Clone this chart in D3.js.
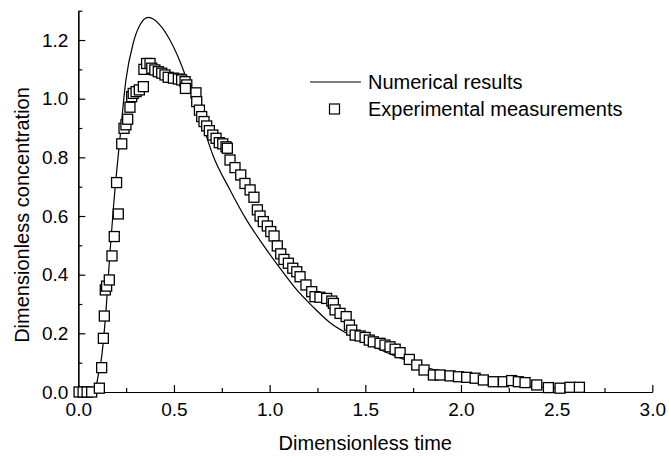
<!DOCTYPE html>
<html>
<head>
<meta charset="utf-8">
<script src="https://cdn.jsdelivr.net/npm/d3@7"></script>
<style>
  body { margin: 0; background: white; }
  svg { display: block; font-family: "Liberation Sans", Arial, sans-serif; }
  .axis text { font-size: 19px; fill: black; }
  .axis path, .axis line { stroke: black; stroke-width: 1.2; }
</style>
</head>
<body>
<script>
// experimental points (dimensionless time, concentration)
var expTime = [0.004, 0.025, 0.046, 0.07, 0.11, 0.122, 0.131, 0.136, 0.141, 0.148, 0.162, 0.176, 0.188, 0.2, 0.209,
  0.227, 0.239, 0.249, 0.258, 0.27, 0.279, 0.287, 0.302, 0.319, 0.34, 0.343, 0.357, 0.375, 0.384, 0.40, 0.418,
  0.436, 0.453, 0.47, 0.497, 0.523, 0.54, 0.558, 0.567, 0.56, 0.615, 0.619, 0.633, 0.645, 0.657, 0.671, 0.685,
  0.703, 0.72, 0.737, 0.755, 0.772, 0.779, 0.793, 0.819, 0.849, 0.871, 0.898, 0.918, 0.936, 0.95, 0.967, 0.988,
  1.006, 1.023, 1.04, 1.058, 1.075, 1.098, 1.121, 1.142, 1.159, 1.19, 1.22, 1.237, 1.263, 1.298, 1.325, 1.333,
  1.342, 1.368, 1.4, 1.417, 1.429, 1.447, 1.473, 1.499, 1.521, 1.542, 1.577, 1.603, 1.629, 1.656, 1.682, 1.73,
  1.769, 1.807, 1.856, 1.891, 1.943, 1.987, 2.03, 2.074, 2.117, 2.169, 2.222, 2.265, 2.3, 2.335, 2.396, 2.457,
  2.518, 2.57, 2.619]
var expConc = [0, 0, 0, 0, 0.013, 0.083, 0.183, 0.259, 0.348, 0.361, 0.382, 0.464, 0.530, 0.714, 0.607,
  0.846, 0.899, 0.911, 0.93, 0.971, 1.007, 1.018, 1.024, 1.03, 1.041, 1.1, 1.12, 1.12, 1.104, 1.098, 1.092,
  1.087, 1.081, 1.073, 1.07, 1.067, 1.064, 1.058, 1.047, 1.035, 1.02, 0.99, 0.961, 0.939, 0.922, 0.907, 0.891,
  0.876, 0.865, 0.85, 0.846, 0.836, 0.831, 0.791, 0.765, 0.74, 0.711, 0.689, 0.664, 0.621, 0.60, 0.581, 0.566,
  0.547, 0.532, 0.498, 0.471, 0.452, 0.439, 0.422, 0.41, 0.393, 0.365, 0.342, 0.325, 0.323, 0.319, 0.31, 0.302,
  0.28, 0.268, 0.257, 0.228, 0.211, 0.194, 0.191, 0.186, 0.177, 0.171, 0.166, 0.16, 0.154, 0.146, 0.134, 0.111,
  0.092, 0.075, 0.058, 0.058, 0.055, 0.052, 0.05, 0.047, 0.041, 0.035, 0.035, 0.039, 0.035, 0.032, 0.024, 0.015,
  0.013, 0.016, 0.016]

// numerical curve
var numTime = [0, 0.07, 0.09, 0.105, 0.122, 0.145, 0.166, 0.185, 0.22, 0.249, 0.287, 0.322, 0.366, 0.427, 0.479,
  0.532, 0.584, 0.636, 0.706, 0.793, 0.88, 0.967, 1.054, 1.142, 1.23, 1.316, 1.42, 1.525, 1.664, 1.839, 2.03,
  2.204, 2.378, 2.64]
var numConc = [0, 0, 0.012, 0.06, 0.12, 0.28, 0.48, 0.64, 0.88, 1.064, 1.189, 1.251, 1.277, 1.251, 1.2,
  1.126, 1.035, 0.939, 0.803, 0.689, 0.586, 0.501, 0.422, 0.348, 0.288, 0.236, 0.194, 0.16, 0.12, 0.08, 0.05,
  0.03, 0.018, 0.008]

var xTicks = [0, 0.5, 1.0, 1.5, 2.0, 2.5, 3.0]
var yTicks = [0, 0.2, 0.4, 0.6, 0.8, 1.0, 1.2]
var xMinor = [0.25, 0.75, 1.25, 1.75, 2.25, 2.75]
var yMinor = [0.1, 0.3, 0.5, 0.7, 0.9, 1.1, 1.3]
var legendLabels = ['Numerical results', 'Experimental measurements']

;(function(){
  var W = 669, H = 457
  var margin = { top: 10.7, right: 16.7, bottom: 65, left: 78.3 }
  var width = W - margin.left - margin.right,
      height = H - margin.top - margin.bottom

  var svg = d3.select('body').append('svg')
      .attr('width', W)
      .attr('height', H)

  var g = svg.append('g')
      .attr('transform', 'translate(' + margin.left + ',' + margin.top + ')')

  var x = d3.scaleLinear().domain([0, 3]).range([0, width])
  var y = d3.scaleLinear().domain([0, 1.3]).range([height, 0])

  // minor ticks
  g.append('g')
      .attr('class', 'axis')
      .attr('transform', 'translate(0,' + height + ')')
      .call(d3.axisBottom(x).tickValues(xMinor).tickSize(-4).tickSizeOuter(0).tickFormat(''))
  g.append('g')
      .attr('class', 'axis')
      .call(d3.axisLeft(y).tickValues(yMinor).tickSize(-4).tickSizeOuter(0).tickFormat(''))

  // major ticks
  var xAxis = g.append('g')
      .attr('class', 'axis')
      .attr('transform', 'translate(0,' + height + ')')
      .call(d3.axisBottom(x).tickValues(xTicks).tickSize(-7).tickSizeOuter(0)
        .tickPadding(10.5).tickFormat(d3.format('.1f')))
  var yAxis = g.append('g')
      .attr('class', 'axis')
      .call(d3.axisLeft(y).tickValues(yTicks).tickSize(-7).tickSizeOuter(0)
        .tickPadding(10).tickFormat(d3.format('.1f')))

  // numerical line
  var line = d3.line()
      .x(function(d){ return x(d[0]) })
      .y(function(d){ return y(d[1]) })
      .curve(d3.curveMonotoneX)

  g.append('path')
      .datum(d3.zip(numTime, numConc))
      .attr('d', line)
      .attr('fill', 'none')
      .attr('stroke', 'black')
      .attr('stroke-width', 1.2)

  // experimental squares
  var s = 10
  g.selectAll('rect.pt')
      .data(d3.zip(expTime, expConc))
      .enter().append('rect')
      .attr('class', 'pt')
      .attr('x', function(d){ return x(d[0]) - s / 2 })
      .attr('y', function(d){ return y(d[1]) - s / 2 })
      .attr('width', s)
      .attr('height', s)
      .attr('fill', 'white')
      .attr('stroke', 'black')
      .attr('stroke-width', 1.3)

  // legend
  var legend = svg.append('g').attr('transform', 'translate(310,82)')
  legend.append('line')
      .attr('x1', 0).attr('x2', 51)
      .attr('y1', 0).attr('y2', 0)
      .attr('stroke', 'black')
      .attr('stroke-width', 1.2)
  legend.append('rect')
      .attr('x', 24.5 - s / 2).attr('y', 27 - s / 2)
      .attr('width', s).attr('height', s)
      .attr('fill', 'white')
      .attr('stroke', 'black')
      .attr('stroke-width', 1.2)
  legend.selectAll('text.lg')
      .data(legendLabels)
      .enter().append('text')
      .attr('class', 'lg')
      .attr('x', 58)
      .attr('y', function(d, i){ return i * 27 })
      .attr('dy', '0.36em')
      .style('font-size', '20px')
      .text(function(d){ return d })

  // axis titles
  svg.append('text')
      .attr('x', margin.left + x(1.5))
      .attr('y', 450)
      .style('text-anchor', 'middle')
      .style('font-size', '20px')
      .text('Dimensionless time')

  svg.append('text')
      .attr('transform', 'translate(29,215) rotate(-90)')
      .style('text-anchor', 'middle')
      .style('font-size', '20px')
      .text('Dimensionless concentration')
})()
</script>
</body>
</html>
